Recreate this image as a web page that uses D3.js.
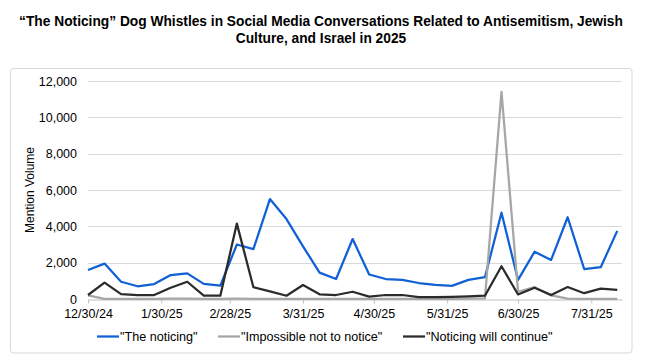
<!DOCTYPE html>
<html>
<head>
<meta charset="utf-8">
<script src="https://cdn.jsdelivr.net/npm/d3@7"></script>
<style>
  body { margin: 0; background: #fff; }
  svg { display: block; font-family: "Liberation Sans", Arial, sans-serif; }
</style>
</head>
<body>
<div id="chart"></div>
<script>
const weeks = ['2024-12-30', '2025-01-06', '2025-01-13', '2025-01-20', '2025-01-27', '2025-02-03',
  '2025-02-10', '2025-02-17', '2025-02-24', '2025-03-03', '2025-03-10', '2025-03-17', '2025-03-24',
  '2025-03-31', '2025-04-07', '2025-04-14', '2025-04-21', '2025-04-28', '2025-05-05', '2025-05-12',
  '2025-05-19', '2025-05-26', '2025-06-02', '2025-06-09', '2025-06-16', '2025-06-23', '2025-06-30',
  '2025-07-07', '2025-07-14', '2025-07-21', '2025-07-28', '2025-08-04', '2025-08-11'];

const theNoticing = [1600, 1950, 950, 700, 820, 1320, 1410, 830, 730, 3000, 2750, 5500, 4400, 2900,
  1450, 1100, 3300, 1350, 1100, 1050, 880, 780, 720, 1050, 1200, 4750, 1050, 2600, 2150, 4500,
  1650, 1750, 3750];
const impossibleNotToNotice = [200, 10, 10, 10, 10, 20, 20, 10, 10, 20, 10, 10, 10, 10, 10, 10, 10,
  10, 10, 10, 10, 10, 10, 20, 30, 11400, 400, 650, 200, 20, 10, 10, 10];
const noticingWillContinue = [220, 900, 270, 220, 220, 620, 950, 180, 180, 4150, 650, 420, 180, 770,
  260, 220, 400, 130, 220, 220, 100, 100, 120, 150, 180, 1800, 250, 620, 220, 660, 320, 570, 500];

const tickDates = ['2024-12-30', '2025-01-30', '2025-02-28', '2025-03-31', '2025-04-30',
  '2025-05-31', '2025-06-30', '2025-07-31'];
const yTicks = [0, 2000, 4000, 6000, 8000, 10000, 12000];

const seriesNames = ['"The noticing"', '"Impossible not to notice"', '"Noticing will continue"'];
const seriesColors = ['#1060d6', '#a6a6a6', '#2b2b2b'];

const width = 653;
const height = 363;
const parse = d3.timeParse('%Y-%m-%d');
const fmtTick = d3.timeFormat('%-m/%-d/%y');
const fmtNum = d3.format(',d');

const svg = d3.select('#chart').append('svg').attr('width', width).attr('height', height);

// chart frame
svg.append('rect')
  .attr('x', 10.5).attr('y', 68.5)
  .attr('width', 621.5).attr('height', 284.5)
  .attr('rx', 3)
  .attr('fill', '#fff').attr('stroke', '#d9d9d9');

// title
const title = svg.append('text')
  .attr('text-anchor', 'middle')
  .attr('font-weight', 'bold')
  .attr('font-size', 13.75)
  .attr('fill', '#000');
title.append('tspan').attr('x', 321).attr('y', 25.5)
  .text('\u201cThe Noticing\u201d Dog Whistles in Social Media Conversations Related to Antisemitism, Jewish');
title.append('tspan').attr('x', 321).attr('y', 43)
  .text('Culture, and Israel in 2025');

const x = d3.scaleTime()
  .domain([parse('2024-12-30'), parse('2025-08-13')])
  .range([88, 622]);
const y = d3.scaleLinear().domain([0, 12000]).range([299, 81]);

// gridlines
svg.append('g').selectAll('line')
  .data(yTicks.filter(d => d > 0))
  .enter().append('line')
    .attr('x1', x.range()[0]).attr('x2', x.range()[1])
    .attr('y1', d => Math.round(y(d)) + 0.5).attr('y2', d => Math.round(y(d)) + 0.5)
    .attr('stroke', '#d9d9d9');

// y axis labels
svg.append('g').selectAll('text')
  .data(yTicks)
  .enter().append('text')
    .attr('x', 77)
    .attr('y', d => y(d) + 4.5)
    .attr('text-anchor', 'end')
    .attr('font-size', 12.5)
    .attr('fill', '#000')
    .text(d => fmtNum(d));

svg.append('text')
  .attr('transform', 'translate(34,190) rotate(-90)')
  .attr('text-anchor', 'middle')
  .attr('font-size', 12)
  .attr('fill', '#000')
  .text('Mention Volume');

// x axis
const xAxis = d3.axisBottom(x)
  .tickValues(tickDates.map(parse))
  .tickFormat(fmtTick)
  .tickSize(4)
  .tickSizeOuter(0);

const gx = svg.append('g')
  .attr('transform', `translate(0,${Math.round(y(0)) + 0.5})`)
  .call(xAxis);
gx.select('.domain').attr('stroke', '#bfbfbf');
gx.selectAll('.tick line').attr('stroke', '#bfbfbf');
gx.selectAll('.tick text')
  .attr('font-family', '"Liberation Sans", Arial, sans-serif')
  .attr('font-size', 12.5)
  .attr('fill', '#000')
  .attr('dy', '0.9em');

// lines
const dates = weeks.map(parse);
const allSeries = [theNoticing, impossibleNotToNotice, noticingWillContinue];
const line = d3.line()
  .x((d, i) => x(dates[i]))
  .y(d => y(d));

svg.append('g').selectAll('path')
  .data(allSeries)
  .enter().append('path')
    .attr('d', d => line(d))
    .attr('fill', 'none')
    .attr('stroke', (d, i) => seriesColors[i])
    .attr('stroke-width', 2.25)
    .attr('stroke-linejoin', 'round');

// legend
const legendX = [97, 218, 403];
const legend = svg.append('g').selectAll('g')
  .data(seriesNames)
  .enter().append('g')
    .attr('transform', (d, i) => `translate(${legendX[i]},336.5)`);
legend.append('line')
  .attr('x1', 0).attr('x2', 22)
  .attr('stroke', (d, i) => seriesColors[i])
  .attr('stroke-width', 2.25);
legend.append('text')
  .attr('x', 23).attr('y', 4.5)
  .attr('font-size', 12.6)
  .attr('fill', '#000')
  .text(d => d);
</script>
</body>
</html>
